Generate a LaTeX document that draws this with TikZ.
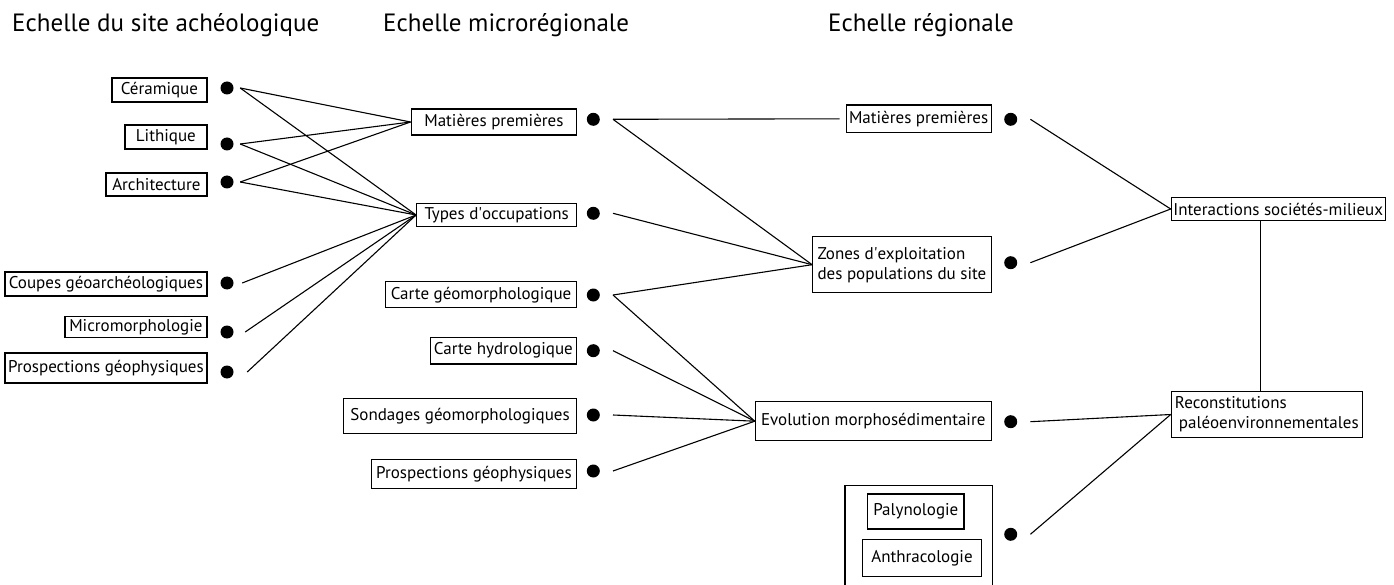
\documentclass[tikz,border=0pt]{standalone}
\usepackage{fontspec}
\setmainfont{PT Sans}
\usepackage{tikz}
\usetikzlibrary{calc, positioning}
\tikzstyle{box} = [rectangle, draw=black, line width=1.2pt, inner sep=2pt, text centered, font=\fontsize{17}{20}\selectfont]
\tikzstyle{dot} = [circle, fill=black, inner sep=0pt, minimum size=13pt]
\tikzstyle{wire} = [line width=1.1pt]
\tikzstyle{title} = [anchor=west, inner sep=0pt, font=\fontsize{25}{28}\selectfont]

\begin{document}
\begin{tikzpicture}[x=1pt, y=-1pt]
	\useasboundingbox (0,0) rectangle (1394,585);
	% titles
	\node (TitleSite) [title] at (12,25) {Echelle du site achéologique};
	\node (TitleMicro) [title] at (383,25) {Echelle microrégionale};
	\node (TitleReg) [title] at (828,25) {Echelle régionale};
	% site scale
	\node (Ceramique) [box, anchor=east, minimum width=95pt, minimum height=24pt] at (207.5,90) {Céramique};
	\node (Lithique) [box, anchor=east, minimum width=82pt, minimum height=24pt] at (207.5,137) {Lithique};
	\node (Architecture) [box, anchor=east, minimum width=101pt, minimum height=23pt] at (207.5,184.5) {Architecture};
	\node (Coupes) [box, anchor=east, minimum width=202pt, minimum height=24pt] at (207.5,284) {Coupes géoarchéologiques};
	\node (Micromorpho) [box, anchor=east, minimum width=142pt, minimum height=21pt] at (207.5,327) {Micromorphologie};
	\node (ProspSite) [box, anchor=east, minimum width=202pt, minimum height=30pt] at (207.5,368) {Prospections géophysiques};
	\node (DotCeramique) [dot] at (227,88) {};
	\node (DotLithique) [dot] at (227,144) {};
	\node (DotArchitecture) [dot] at (227,182) {};
	\node (DotCoupes) [dot] at (227,283) {};
	\node (DotMicromorpho) [dot] at (227,332) {};
	\node (DotProspSite) [dot] at (227,372) {};
	% microregional scale
	\node (MatieresMicro) [box, anchor=east, minimum width=165.6pt, minimum height=26pt] at (577.3,122) {Matières premières};
	\node (Occupations) [box, anchor=east, minimum width=160pt, minimum height=23.4pt] at (577.3,215) {Types d\textquotesingle occupations};
	\node (CarteGeomorpho) [box, anchor=east, minimum width=191.3pt, minimum height=26pt] at (577.3,294.7) {Carte géomorphologique};
	\node (CarteHydro) [box, anchor=east, minimum width=146.6pt, minimum height=26.7pt] at (577.3,350.7) {Carte hydrologique};
	\node (Sondages) [box, anchor=east, minimum width=233.3pt, minimum height=35pt] at (577.3,415.8) {Sondages géomorphologiques};
	\node (ProspMicro) [box, anchor=east, minimum width=205.6pt, minimum height=28.3pt] at (577.3,474) {Prospections géophysiques};
	\node (DotMatieresMicro) [dot] at (593.3,119.3) {};
	\node (DotOccupations) [dot] at (593.3,213.3) {};
	\node (DotCarteGeomorpho) [dot] at (593.3,295) {};
	\node (DotCarteHydro) [dot] at (593.3,350.7) {};
	\node (DotSondages) [dot] at (593.3,415) {};
	\node (DotProspMicro) [dot] at (593.3,471) {};
	% regional scale
	\node (MatieresReg) [box, anchor=east, minimum width=145pt, minimum height=27.7pt] at (991.7,118.8) {Matières premières};
	\node (Zones) [box, anchor=east, align=left, minimum width=178.4pt, minimum height=56pt] at (991.7,264.7) {Zones d\textquotesingle exploitation\\des populations du site};
	\node (Evolution) [box, anchor=east, minimum width=235.7pt, minimum height=39pt] at (991.7,421.2) {Evolution morphosédimentaire};
	\node (Proxies) [minimum width=147.3pt, minimum height=99.3pt, inner sep=0pt, anchor=north west] at (845,485.7) {};
	\draw [line width=1.2pt] (Proxies.south west) |- (Proxies.north east) -- (Proxies.south east);
	\node (Palynologie) [box, minimum width=96.3pt, minimum height=35pt] at (915.8,511.5) {Palynologie};
	\node (Anthracologie) [box, minimum width=119.4pt, minimum height=37.4pt] at (922,558) {Anthracologie};
	\node (DotMatieresReg) [dot] at (1010.7,119.3) {};
	\node (DotZones) [dot] at (1010.7,262.7) {};
	\node (DotEvolution) [dot] at (1010.7,421.7) {};
	\node (DotProxies) [dot] at (1010.7,534.3) {};
	\node (Interactions) [box, anchor=west, minimum width=211pt, minimum height=23.4pt] at (1170.7,209) {Interactions sociétés-milieux};
	\node (Reconstitutions) [box, anchor=west, align=left, minimum width=191pt, minimum height=45.6pt] at (1170.7,414.5) {Reconstitutions\\\hspace{4pt}paléoenvironnementales};
	% site -> microregional
	\draw [wire] ([xshift=6.5pt]DotCeramique.east) -- (MatieresMicro.west);
	\draw [wire] ([xshift=6.5pt]DotCeramique.east) -- (Occupations.west);
	\draw [wire] ([xshift=6.5pt]DotLithique.east) -- (MatieresMicro.west);
	\draw [wire] ([xshift=6.5pt]DotLithique.east) -- (Occupations.west);
	\draw [wire] ([xshift=6.5pt]DotArchitecture.east) -- (MatieresMicro.west);
	\draw [wire] ([xshift=6.5pt]DotArchitecture.east) -- (Occupations.west);
	\draw [wire] ([xshift=8.5pt]DotCoupes.east) -- (Occupations.west);
	\draw [wire] ([xshift=11.5pt]DotMicromorpho.east) -- (Occupations.west);
	\draw [wire] ([xshift=13.5pt]DotProspSite.east) -- (Occupations.west);
	% microregional -> regional
	\draw [wire, shorten >=6pt] ([xshift=13pt]DotMatieresMicro.east) -- (MatieresReg.west);
	\draw [wire] ([xshift=13pt]DotMatieresMicro.east) -- (Zones.west);
	\draw [wire] ([xshift=13pt]DotOccupations.east) -- (Zones.west);
	\draw [wire] ([xshift=13pt]DotCarteGeomorpho.east) -- (Zones.west);
	\draw [wire] ([xshift=13pt]DotCarteGeomorpho.east) -- (Evolution.west);
	\draw [wire] ([xshift=13pt]DotCarteHydro.east) -- (Evolution.west);
	\draw [wire] ([xshift=13pt]DotSondages.east) -- (Evolution.west);
	\draw [wire] ([xshift=13pt]DotProspMicro.east) -- (Evolution.west);
	% regional -> synthesis
	\draw [wire] ([xshift=13pt]DotMatieresReg.east) -- (Interactions.west);
	\draw [wire] ([xshift=13pt]DotZones.east) -- (Interactions.west);
	\draw [wire] ([xshift=13pt]DotEvolution.east) -- (Reconstitutions.west);
	\draw [wire] ([xshift=13pt]DotProxies.east) -- (Reconstitutions.west);
	\draw [wire] ([xshift=-6pt]Reconstitutions.north) -- ([xshift=-6pt]Reconstitutions.north |- Interactions.south);
\end{tikzpicture}
\end{document}
